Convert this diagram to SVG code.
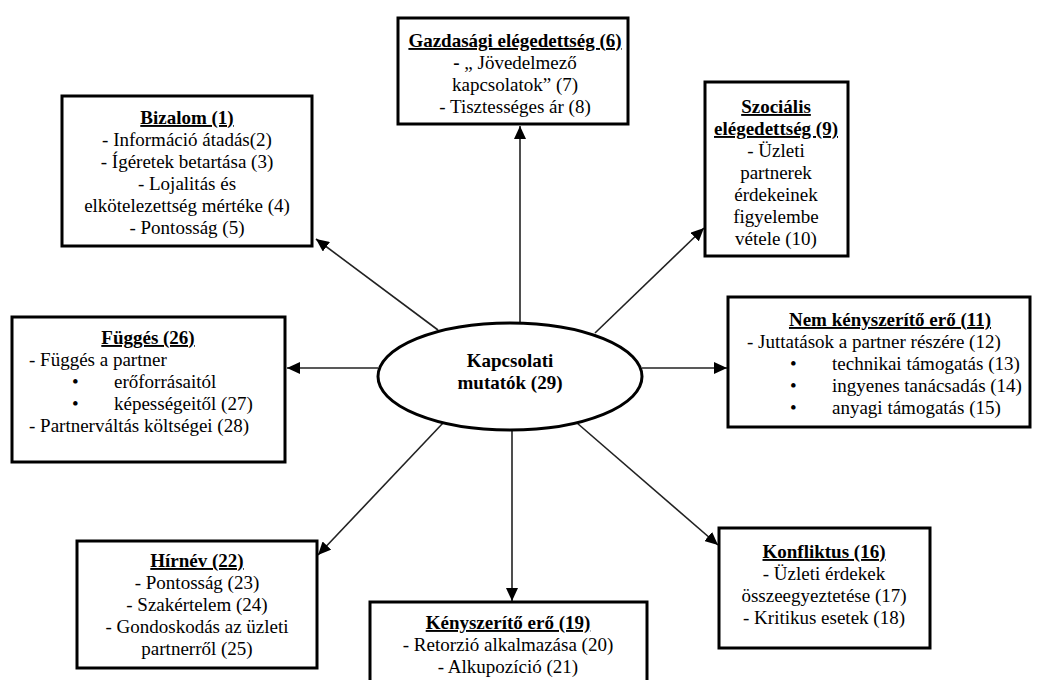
<svg xmlns="http://www.w3.org/2000/svg" width="1038" height="680" viewBox="0 0 1038 680">
<style>
text{font-family:"Liberation Serif","Times New Roman",serif;font-size:19px;fill:#000}
.c{text-anchor:middle}
.t{font-weight:bold;text-decoration:underline}
.b{font-weight:bold}
.box{fill:#fff;stroke:#000;stroke-width:3}
.ln{stroke:#222;stroke-width:1.6;fill:none;marker-end:url(#ah)}
</style>
<defs>
<marker id="ah" markerUnits="userSpaceOnUse" markerWidth="14" markerHeight="12" refX="13" refY="6" orient="auto">
<path d="M0,0 L13,6 L0,12 Z" fill="#000"/>
</marker>
</defs>
<rect width="1038" height="680" fill="#fff"/>
<g id="connectors">
<line class="ln" x1="520" y1="323" x2="520" y2="126"/>
<line class="ln" x1="438" y1="330" x2="316" y2="239"/>
<line class="ln" x1="595" y1="333" x2="704" y2="228"/>
<line class="ln" x1="642" y1="368" x2="727" y2="368"/>
<line class="ln" x1="577" y1="423" x2="718" y2="545"/>
<line class="ln" x1="512" y1="428" x2="512" y2="601"/>
<line class="ln" x1="443" y1="423" x2="318" y2="555"/>
<line class="ln" x1="378" y1="368" x2="287" y2="368"/>
</g>
<g id="center">
<ellipse cx="510" cy="376.5" rx="132" ry="53.5" fill="#fff" stroke="#000" stroke-width="3"/>
<text class="c b" x="510" y="367">Kapcsolati</text>
<text class="c b" x="510" y="389">mutatók (29)</text>
</g>
<g id="gazdasagi">
<rect class="box" x="398" y="18" width="230" height="106"/>
<text class="c t" x="515" y="47">Gazdasági elégedettség (6)</text>
<text class="c" x="515" y="69"><tspan class="b">-</tspan> „ Jövedelmező</text>
<text class="c" x="515" y="91">kapcsolatok” (7)</text>
<text class="c" x="515" y="113">- Tisztességes ár (8)</text>
</g>
<g id="bizalom">
<rect class="box" x="62" y="96" width="250" height="150"/>
<text class="c t" x="187" y="124">Bizalom (1)</text>
<text class="c" x="187" y="146">- Információ átadás(2)</text>
<text class="c" x="187" y="168">- Ígéretek betartása (3)</text>
<text class="c" x="187" y="190">- Lojalitás és</text>
<text class="c" x="187" y="212">elkötelezettség mértéke (4)</text>
<text class="c" x="187" y="234">- Pontosság (5)</text>
</g>
<g id="szocialis">
<rect class="box" x="705" y="82" width="143" height="174"/>
<text class="c t" x="776" y="113">Szociális</text>
<text class="c t" x="776" y="135">elégedettség (9)</text>
<text class="c" x="776" y="157">- Üzleti</text>
<text class="c" x="776" y="179">partnerek</text>
<text class="c" x="776" y="201">érdekeinek</text>
<text class="c" x="776" y="223">figyelembe</text>
<text class="c" x="776" y="245">vétele (10)</text>
</g>
<g id="nemkenyszerito">
<rect class="box" x="728" y="297" width="302" height="130"/>
<text class="c t" x="890" y="326">Nem kényszerítő erő (11)</text>
<text x="747" y="348">- Juttatások a partner részére (12)</text>
<text x="790" y="370">•</text><text x="832" y="370">technikai támogatás (13)</text>
<text x="790" y="392">•</text><text x="832" y="392">ingyenes tanácsadás (14)</text>
<text x="790" y="414">•</text><text x="832" y="414">anyagi támogatás (15)</text>
</g>
<g id="fugges">
<rect class="box" x="12" y="317" width="273" height="145"/>
<text class="c t" x="148" y="344">Függés (26)</text>
<text x="29" y="366">- Függés a partner</text>
<text x="72" y="388">•</text><text x="114" y="388">erőforrásaitól</text>
<text x="72" y="410">•</text><text x="114" y="410">képességeitől (27)</text>
<text x="29" y="432">- Partnerváltás költségei (28)</text>
</g>
<g id="hirnev">
<rect class="box" x="77" y="541" width="240" height="127"/>
<text class="c t" x="197" y="567">Hírnév (22)</text>
<text class="c" x="197" y="589">- Pontosság (23)</text>
<text class="c" x="197" y="611">- Szakértelem (24)</text>
<text class="c" x="197" y="633">- Gondoskodás az üzleti</text>
<text class="c" x="197" y="655">partnerről (25)</text>
</g>
<g id="kenyszerito">
<rect class="box" x="370" y="602" width="277" height="100"/>
<text class="c t" x="508" y="629">Kényszerítő erő (19)</text>
<text class="c" x="508" y="651">- Retorzió alkalmazása (20)</text>
<text class="c" x="508" y="673">- Alkupozíció (21)</text>
</g>
<g id="konfliktus">
<rect class="box" x="719" y="528" width="211" height="120"/>
<text class="c t" x="824" y="558">Konfliktus (16)</text>
<text class="c" x="824" y="580">- Üzleti érdekek</text>
<text class="c" x="824" y="602">összeegyeztetése (17)</text>
<text class="c" x="824" y="624">- Kritikus esetek (18)</text>
</g>
</svg>
